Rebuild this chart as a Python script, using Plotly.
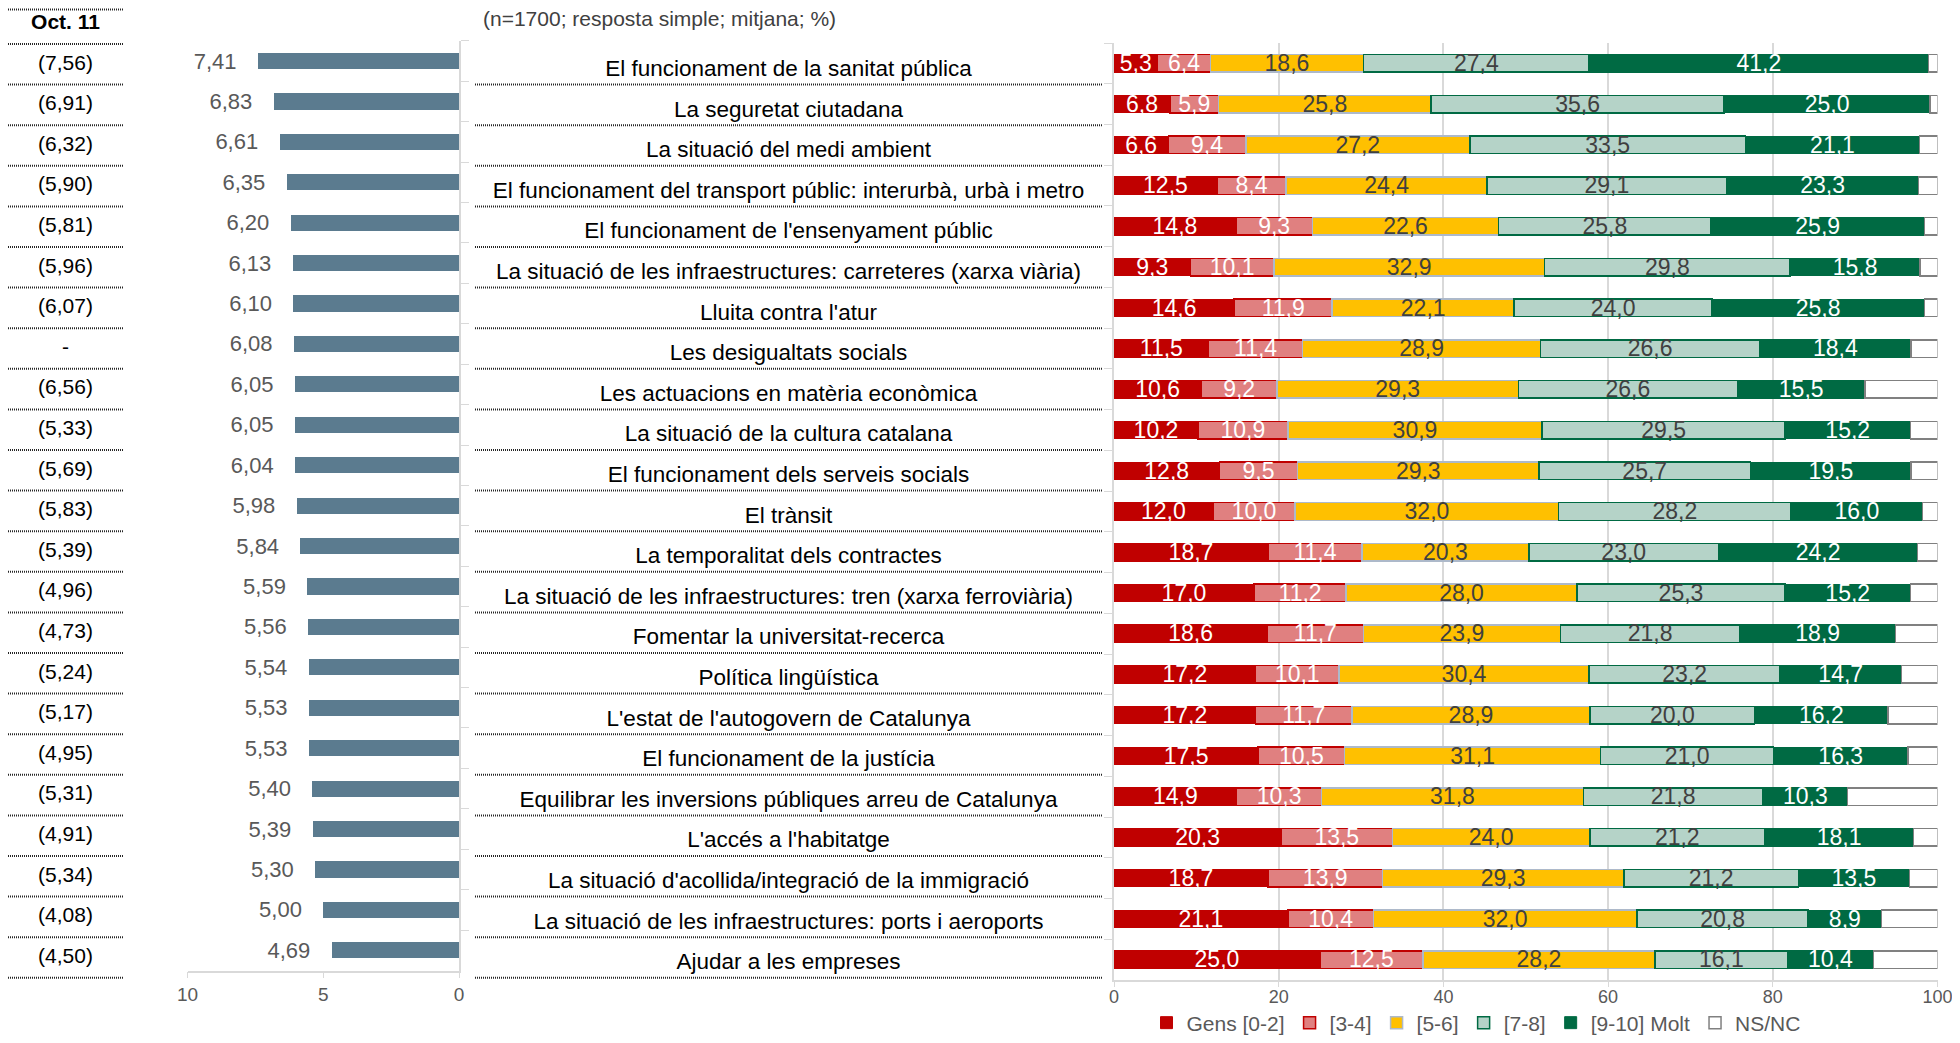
import numpy as np
import plotly.graph_objects as go

# ---------------- data ----------------
categories = [
    "El funcionament de la sanitat pública",
    "La seguretat ciutadana",
    "La situació del medi ambient",
    "El funcionament del transport públic: interurbà, urbà i metro",
    "El funcionament de l'ensenyament públic",
    "La situació de les infraestructures: carreteres (xarxa viària)",
    "Lluita contra l'atur",
    "Les desigualtats socials",
    "Les actuacions en matèria econòmica",
    "La situació de la cultura catalana",
    "El funcionament dels serveis socials",
    "El trànsit",
    "La temporalitat dels contractes",
    "La situació de les infraestructures: tren (xarxa ferroviària)",
    "Fomentar la universitat-recerca",
    "Política lingüística",
    "L'estat de l'autogovern de Catalunya",
    "El funcionament de la justícia",
    "Equilibrar les inversions públiques arreu de Catalunya",
    "L'accés a l'habitatge",
    "La situació d'acollida/integració de la immigració",
    "La situació de les infraestructures: ports i aeroports",
    "Ajudar a les empreses",
]
mean_score = [7.41, 6.83, 6.61, 6.35, 6.20, 6.13, 6.10, 6.08, 6.05, 6.05, 6.04, 5.98,
              5.84, 5.59, 5.56, 5.54, 5.53, 5.53, 5.40, 5.39, 5.30, 5.00, 4.69]
oct11 = [7.56, 6.91, 6.32, 5.90, 5.81, 5.96, 6.07, None, 6.56, 5.33, 5.69, 5.83,
         5.39, 4.96, 4.73, 5.24, 5.17, 4.95, 5.31, 4.91, 5.34, 4.08, 4.50]

gens = [5.3, 6.8, 6.6, 12.5, 14.8, 9.3, 14.6, 11.5, 10.6, 10.2, 12.8, 12.0,
        18.7, 17.0, 18.6, 17.2, 17.2, 17.5, 14.9, 20.3, 18.7, 21.1, 25.0]
v34 = [6.4, 5.9, 9.4, 8.4, 9.3, 10.1, 11.9, 11.4, 9.2, 10.9, 9.5, 10.0,
       11.4, 11.2, 11.7, 10.1, 11.7, 10.5, 10.3, 13.5, 13.9, 10.4, 12.5]
v56 = [18.6, 25.8, 27.2, 24.4, 22.6, 32.9, 22.1, 28.9, 29.3, 30.9, 29.3, 32.0,
       20.3, 28.0, 23.9, 30.4, 28.9, 31.1, 31.8, 24.0, 29.3, 32.0, 28.2]
v78 = [27.4, 35.6, 33.5, 29.1, 25.8, 29.8, 24.0, 26.6, 26.6, 29.5, 25.7, 28.2,
       23.0, 25.3, 21.8, 23.2, 20.0, 21.0, 21.8, 21.2, 21.2, 20.8, 16.1]
molt = [41.2, 25.0, 21.1, 23.3, 25.9, 15.8, 25.8, 18.4, 15.5, 15.2, 19.5, 16.0,
        24.2, 15.2, 18.9, 14.7, 16.2, 16.3, 10.3, 18.1, 13.5, 8.9, 10.4]
nsnc = [1.1, 0.9, 2.2, 2.3, 1.6, 2.1, 1.6, 3.2, 8.8, 3.3, 3.2, 1.8,
        2.4, 3.3, 5.1, 4.4, 6.0, 3.6, 10.9, 2.9, 3.4, 6.8, 7.8]

series_names = ["Gens [0-2]", "[3-4]", "[5-6]", "[7-8]", "[9-10] Molt", "NS/NC"]
left_ticks = [10, 5, 0]
right_ticks = [0, 20, 40, 60, 80, 100]
header = "Oct. 11"
subtitle = "(n=1700; resposta simple; mitjana; %)"

# ---------------- geometry / styling ----------------
PW, PH = 1960, 1043          # page size
OFF = 8                      # default body margin of the page
FW, FH = PW - 2 * OFF, PH - 2 * OFF
FONT = "Liberation Sans, Arial, sans-serif"
GRID = "#d9d9d9"
TICKC = "#595959"

fills = ["#C00000", "#E08080", "#FFC000", "#B5D3C8", "#006A43", "#FFFFFF"]
lines = ["#C00000", "#C00000", "#ADB9CA", "#006A43", "#006A43", "#808080"]
lwidth = [1, 1.5, 1.5, 1.5, 1, 1.5]
txtcol = ["#FFFFFF", "#FFFFFF", "#404040", "#404040", "#FFFFFF"]

TB_FIRST, TB_ROW, TB_TOP, TB_BOT = 3.4, 40.6, OFF, 985   # table rows (page px)


def dx(a, b):
    return [max(0, (a - OFF) / FW), min(1, (b - OFF) / FW)]


def dy(top, bottom):
    return [max(0, 1 - (bottom - OFF) / FH), min(1, 1 - (top - OFF) / FH)]


def cat_range(first_boundary, row_px, dom_top, dom_bot):
    top = -0.5 + (dom_top - first_boundary) / row_px
    bot = -0.5 + (dom_bot - first_boundary) / row_px
    return [bot, top]


def fmt(v, d):
    return f"{v:.{d}f}".replace(".", ",")


n = len(categories)
fig = go.Figure()

# left bars: mean score
fig.add_trace(go.Bar(
    x=mean_score, y=categories, orientation="h", xaxis="x", yaxis="y",
    marker=dict(color="#5B7B8F", line=dict(width=0)), width=0.4,
    text=[fmt(v, 2) + "\u00a0\u00a0\u00a0" for v in mean_score], textposition="outside",
    textfont=dict(family=FONT, size=22, color=TICKC), constraintext="none",
    cliponaxis=False, showlegend=False, hoverinfo="x+y"))

# right stacked bars
series = [gens, v34, v56, v78, molt, nsnc]
for i, (name, vals) in enumerate(zip(series_names, series)):
    fig.add_trace(go.Bar(
        x=vals, y=categories, orientation="h", xaxis="x2", yaxis="y2",
        name=name, width=0.43,
        marker=dict(color=fills[i], line=dict(color=lines[i], width=lwidth[i])),
        hoverinfo="x+y+name"))

# value labels of stacked bars (sitting slightly low, as in the original)
arr = np.array(series[:5])
ends = np.cumsum(arr, axis=0)
mids = ends - arr / 2
for i in range(5):
    fig.add_trace(go.Scatter(
        x=mids[i], y=categories, xaxis="x5", yaxis="y5", mode="text",
        text=[fmt(v, 1) for v in series[i]],
        textfont=dict(family=FONT, size=23, color=txtcol[i]),
        cliponaxis=False, showlegend=False, hoverinfo="skip"))

# left table: Oct. 11
table_keys = [header] + categories
table_text = ["<b>" + header + "</b>"] + ["-" if v is None else "(" + fmt(v, 2) + ")" for v in oct11]
fig.add_trace(go.Scatter(
    x=[0.5] * len(table_keys), y=table_keys, xaxis="x3", yaxis="y3", mode="text",
    text=table_text, textfont=dict(family=FONT, size=21, color="#000000"),
    cliponaxis=False, showlegend=False, hoverinfo="skip"))

# middle category labels
fig.add_trace(go.Scatter(
    x=[0.5] * n, y=categories, xaxis="x4", yaxis="y4", mode="text",
    text=categories, textfont=dict(family=FONT, size=22.5, color="#000000"),
    cliponaxis=False, showlegend=False, hoverinfo="skip"))

# dotted separators
shapes = []
dot = dict(color="#262626", width=2, dash="1px,1px")
top_line = -0.5 + (OFF + 1.5 - TB_FIRST) / TB_ROW      # line above the header (at the top edge)
shapes.append(dict(type="line", xref="x3 domain", yref="y3", x0=0, x1=1,
                   y0=top_line, y1=top_line, line=dot))
for k in range(len(table_keys)):
    shapes.append(dict(type="line", xref="x3 domain", yref="y3", x0=0, x1=1,
                       y0=k + 0.5, y1=k + 0.5, line=dot))
for k in range(1, len(table_keys)):
    shapes.append(dict(type="line", xref="x4 domain", yref="y3", x0=0, x1=1,
                       y0=k + 0.5, y1=k + 0.5, line=dot))

cat = dict(type="category", categoryorder="array", categoryarray=categories)
hidden = dict(visible=False, showgrid=False, zeroline=False)
full_rng = [n - 0.5, -0.5]

fig.update_layout(
    width=FW, height=FH, margin=dict(l=0, r=0, t=0, b=0, autoexpand=False),
    paper_bgcolor="white", plot_bgcolor="rgba(0,0,0,0)",
    separators=",.", barmode="stack",
    font=dict(family=FONT, color=TICKC),
    xaxis=dict(domain=dx(187.5, 459), range=[10, 0], tickvals=left_ticks,
               ticks="outside", ticklen=6, tickcolor=GRID, showline=True,
               linecolor=GRID, linewidth=1.5, showgrid=False, zeroline=False,
               tickfont=dict(family=FONT, size=19, color=TICKC), anchor="y"),
    yaxis=dict(**cat, range=full_rng, domain=dy(40.8, 970.5), side="right", showline=True,
               linecolor=GRID, linewidth=1.5, ticks="outside", tickson="boundaries",
               ticklen=8, tickcolor=GRID, showticklabels=False, showgrid=False,
               zeroline=False, anchor="x"),
    xaxis2=dict(domain=dx(1114, 1937.5), range=[0, 100], tickvals=right_ticks,
                ticks="outside", ticklen=5, tickcolor=GRID, showline=True,
                linecolor=GRID, linewidth=1.5, showgrid=True, gridcolor=GRID,
                gridwidth=1.5, zeroline=False, ticklabeloverflow="allow",
                ticklabelstandoff=-5,
                tickfont=dict(family=FONT, size=18, color=TICKC), anchor="y2"),
    yaxis2=dict(**cat, range=full_rng, domain=dy(43, 980), side="left", showline=True,
                linecolor=GRID, linewidth=1.5, ticks="outside", tickson="boundaries",
                ticklen=8, tickcolor=GRID, showticklabels=False, showgrid=False,
                zeroline=False, anchor="x2"),
    xaxis5=dict(**hidden, matches="x2", domain=dx(1114, 1937.5), range=[0, 100], anchor="y5"),
    yaxis5=dict(**cat, range=full_rng, **hidden, domain=dy(45, 982), anchor="x5"),
    xaxis3=dict(**hidden, domain=dx(8, 123), range=[0, 1], anchor="y3"),
    yaxis3=dict(type="category", categoryorder="array", categoryarray=table_keys,
                range=cat_range(TB_FIRST, TB_ROW, TB_TOP, TB_BOT), **hidden,
                domain=dy(TB_TOP, TB_BOT), anchor="x3"),
    xaxis4=dict(**hidden, domain=dx(475, 1102), range=[0, 1], anchor="y4"),
    yaxis4=dict(**cat, range=full_rng, **hidden, domain=dy(50, 984), anchor="x4"),
    shapes=shapes,
    legend=dict(orientation="h", x=(1476 - OFF) / FW, xanchor="center",
                y=1 - (1023 - OFF) / FH, yanchor="middle",
                font=dict(family=FONT, size=21, color=TICKC),
                bgcolor="rgba(0,0,0,0)", itemwidth=30, traceorder="normal"),
    annotations=[dict(text=subtitle, xref="paper", yref="paper", x=(481 - OFF) / FW, y=1,
                      xanchor="left", yanchor="top", yshift=3, showarrow=False,
                      font=dict(family=FONT, size=21, color="#404040"))],
)

fig.write_html("out.html")
